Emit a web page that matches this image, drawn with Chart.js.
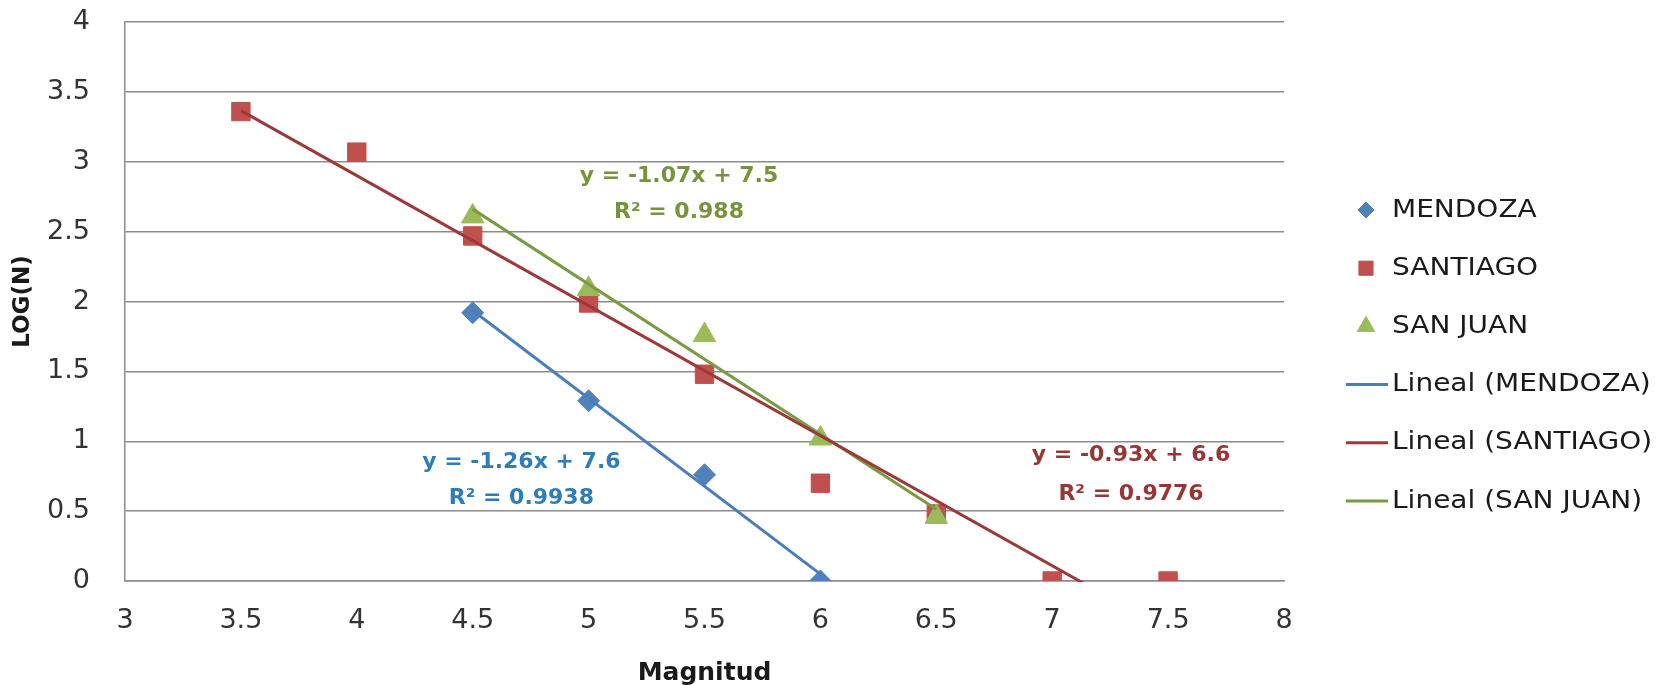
<!DOCTYPE html>
<html>
<head>
<meta charset="utf-8">
<script src="https://cdn.jsdelivr.net/npm/chart.js@4.4.0/dist/chart.umd.min.js"></script>
<style>
  html, body { margin: 0; padding: 0; background: #fff; }
  #wrap { width: 1660px; height: 685px; }
</style>
</head>
<body>
<div id="wrap"><canvas id="myChart"></canvas></div>
<script>
// Data
const mendozaX = [4.5, 5, 5.5, 6];
const mendozaY = [1.92, 1.29, 0.76, 0];
const santiagoX = [3.5, 4, 4.5, 5, 5.5, 6, 6.5, 7, 7.5];
const santiagoY = [3.36, 3.07, 2.47, 1.99, 1.48, 0.70, 0.48, 0, 0];
const sanJuanX = [4.5, 5, 5.5, 6, 6.5];
const sanJuanY = [2.61, 2.09, 1.76, 1.02, 0.46];

const seriesNames = ['MENDOZA', 'SANTIAGO', 'SAN JUAN'];
const equations = ['y = -1.26x + 7.6', 'y = -0.93x + 6.6', 'y = -1.07x + 7.5'];
const rSquared = ['R² = 0.9938', 'R² = 0.9776', 'R² = 0.988'];

const FONT = '"DejaVu Sans", sans-serif';
const GRID = '#8c8c8c';

function toPoints(xs, ys) {
    return xs.map((x, i) => ({ x: x, y: ys[i] }));
}

// least squares trendline over the x range of the data (like Excel)
function trend(xs, ys) {
    const n = xs.length;
    const mx = xs.reduce((a, b) => a + b, 0) / n;
    const my = ys.reduce((a, b) => a + b, 0) / n;
    let sxy = 0, sxx = 0;
    for (let i = 0; i < n; i++) {
        sxy += (xs[i] - mx) * (ys[i] - my);
        sxx += (xs[i] - mx) * (xs[i] - mx);
    }
    const b = sxy / sxx;
    const a = my - b * mx;
    const x0 = Math.min(...xs), x1 = Math.max(...xs);
    return [{ x: x0, y: a + b * x0 }, { x: x1, y: a + b * x1 }];
}

const markerColors = ['#4F81BD', '#C0504D', '#9BBB59'];
const lineColors = ['#4A7EBB', '#9B3A38', '#7A9A44'];
const eqColors = ['#2E7CB8', '#953735', '#77933C'];
const styles = ['rectRot', 'rect', 'triangle'];
const radii = [11, 13, 13];
const markerOrder = [3, 2, 1];

const xs = [mendozaX, santiagoX, sanJuanX];
const ys = [mendozaY, santiagoY, sanJuanY];

const datasets = [];
// markers first (legend order), trendlines after
seriesNames.forEach((name, i) => {
    datasets.push({
        label: name,
        data: toPoints(xs[i], ys[i]),
        showLine: false,
        pointStyle: styles[i],
        pointRadius: radii[i],
        pointHoverRadius: radii[i],
        backgroundColor: markerColors[i],
        borderColor: markerColors[i],
        borderWidth: 1,
        order: markerOrder[i]
    });
});
seriesNames.forEach((name, i) => {
    datasets.push({
        label: 'Lineal (' + name + ')',
        data: trend(xs[i], ys[i]),
        showLine: true,
        borderColor: lineColors[i],
        borderWidth: 3,
        pointRadius: 0,
        pointHoverRadius: 0,
        clip: 1,
        order: 0
    });
});

// equation labels, anchored in data units
const eqAnchor = [
    { x: 4.71, y1: 0.85, y2: 0.59 },
    { x: 7.34, y1: 0.90, y2: 0.62 },
    { x: 5.39, y1: 2.90, y2: 2.64 }
];

const labelsPlugin = {
    id: 'labels',
    afterDatasetsDraw(chart) {
        const ctx = chart.ctx;
        const xS = chart.scales.x, yS = chart.scales.y;
        ctx.save();
        ctx.textAlign = 'center';
        ctx.textBaseline = 'middle';
        ctx.font = 'bold 22px ' + FONT;
        eqAnchor.forEach((a, i) => {
            ctx.fillStyle = eqColors[i];
            const px = xS.getPixelForValue(a.x);
            ctx.fillText(equations[i], px, yS.getPixelForValue(a.y1));
            ctx.fillText(rSquared[i], px, yS.getPixelForValue(a.y2));
        });
        ctx.restore();
    },
    afterDraw(chart) {
        // legend at right
        const ctx = chart.ctx;
        ctx.save();
        chart.data.datasets.forEach((ds, i) => {
            const y = 210 + i * 58.2;
            if (ds.showLine) {
                ctx.strokeStyle = ds.borderColor;
                ctx.lineWidth = 3;
                ctx.beginPath();
                ctx.moveTo(1346, y);
                ctx.lineTo(1388, y);
                ctx.stroke();
            } else {
                ctx.fillStyle = ds.backgroundColor;
                ctx.strokeStyle = ds.borderColor;
                ctx.lineWidth = 1;
                Chart.helpers.drawPoint(ctx, {
                    pointStyle: ds.pointStyle,
                    radius: ds.pointRadius - 3,
                    rotation: 0,
                    borderWidth: 1
                }, 1366, y);
            }
            // text is a bit wider than DejaVu in the original
            ctx.save();
            ctx.translate(1392, y);
            ctx.scale(1.12, 1);
            ctx.textBaseline = 'middle';
            ctx.textAlign = 'left';
            ctx.font = '25px ' + FONT;
            ctx.fillStyle = '#1a1a1a';
            ctx.fillText(ds.label, 0, 0);
            ctx.restore();
        });
        ctx.restore();
    }
};

const fmt = v => String(Math.round(v * 10) / 10);

const config = {
    type: 'scatter',
    data: { datasets: datasets },
    options: {
        responsive: true,
        maintainAspectRatio: false,
        animation: false,
        events: [],
        layout: { padding: { top: 21, right: 376, left: 0, bottom: 0 } },
        plugins: {
            legend: { display: false },
            tooltip: { enabled: false }
        },
        scales: {
            x: {
                type: 'linear',
                min: 3,
                max: 8,
                afterFit: s => { s.height = 104; },
                ticks: {
                    stepSize: 0.5,
                    callback: fmt,
                    padding: 24,
                    color: '#333',
                    font: { family: FONT, size: 27 },
                    maxRotation: 0
                },
                grid: { display: false, drawTicks: false },
                border: { display: true, color: GRID, width: 1.5 },
                title: {
                    display: true,
                    text: 'Magnitud',
                    color: '#1a1a1a',
                    font: { family: FONT, size: 25, weight: 'bold' },
                    padding: { top: 11, bottom: -3 }
                }
            },
            y: {
                min: 0,
                max: 4,
                afterFit: s => { s.width = 125; },
                ticks: {
                    stepSize: 0.5,
                    callback: fmt,
                    padding: 6,
                    color: '#333',
                    font: { family: FONT, size: 27 }
                },
                grid: { color: GRID, lineWidth: 1.5, drawTicks: true, tickLength: 29, tickColor: 'rgba(0,0,0,0)' },
                border: { display: true, color: GRID, width: 1.5 },
                title: {
                    display: true,
                    text: 'LOG(N)',
                    color: '#1a1a1a',
                    font: { family: FONT, size: 23, weight: 'bold' },
                    padding: { top: 9, bottom: 0 }
                }
            }
        }
    },
    plugins: [labelsPlugin]
};

const myChart = new Chart(document.getElementById('myChart'), config);
</script>
</body>
</html>
